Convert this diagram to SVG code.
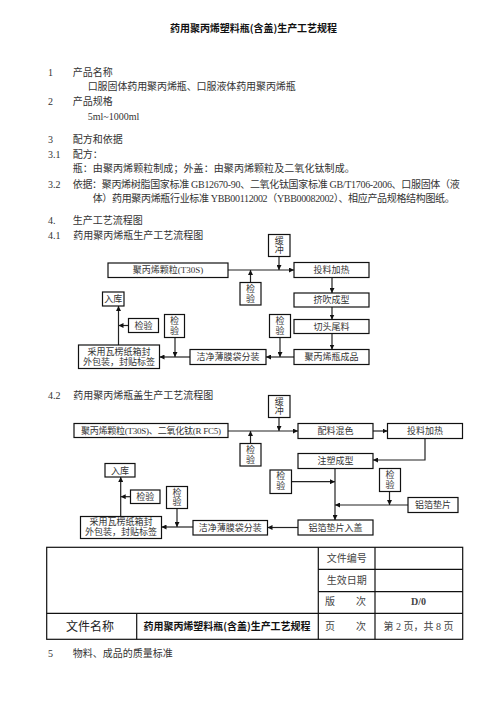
<svg xmlns="http://www.w3.org/2000/svg" width="496" height="702" viewBox="0 0 496 702">
<defs>
<marker id="ah" viewBox="0 0 6 6" refX="6" refY="3" markerWidth="5" markerHeight="5" markerUnits="userSpaceOnUse" orient="auto"><path d="M0,0 L6,3 L0,6 z" fill="#111"/></marker>
<style>
.t{font-family:"Liberation Serif","Noto Sans CJK SC",serif;font-size:10px;fill:#333}
.h{font-family:"Noto Sans CJK SC",sans-serif;font-size:10px;font-weight:bold;fill:#111}
.b{fill:#fff;stroke:#111;stroke-width:1.2}
.bt{font-family:"Liberation Serif","Noto Sans CJK SC",serif;font-size:9px;fill:#333;text-anchor:middle}
.c{fill:none;stroke:#222;stroke-width:1.2;marker-end:url(#ah)}
.g{fill:none;stroke:#111;stroke-width:1.2}
.tc{font-family:"Liberation Serif","Noto Sans CJK SC",serif;font-size:10px;fill:#444;text-anchor:middle}
</style>
</defs>
<rect width="496" height="702" fill="#fff"/>
<text class="h" x="253.5" y="32" text-anchor="middle" textLength="167">药用聚丙烯塑料瓶(含盖)生产工艺规程</text>
<g id="body">
<text class="t" x="48" y="75.8">1</text><text class="t" x="72.7" y="75.8">产品名称</text>
<text class="t" x="87.7" y="89.5" textLength="208">口服固体药用聚丙烯瓶、口服液体药用聚丙烯瓶</text>
<text class="t" x="48" y="105.2">2</text><text class="t" x="72.7" y="105.2">产品规格</text>
<text class="t" x="87.7" y="120.2">5ml~1000ml</text>
<text class="t" x="48" y="142.5">3</text><text class="t" x="72.7" y="142.5">配方和依据</text>
<text class="t" x="48" y="157.8">3.1</text><text class="t" x="72.7" y="157.8">配方：</text>
<text class="t" x="72.7" y="171.8" textLength="282">瓶：由聚丙烯颗粒制成；外盖：由聚丙烯颗粒及二氧化钛制成。</text>
<text class="t" x="48" y="187.8">3.2</text><text class="t" x="72.7" y="187.8" textLength="387">依据：聚丙烯树脂国家标准 GB12670-90、二氧化钛国家标准 GB/T1706-2006、口服固体（液</text>
<text class="t" x="92.7" y="201.8" textLength="362">体）药用聚丙烯瓶行业标准 YBB00112002（YBB00082002）、相应产品规格结构图纸。</text>
<text class="t" x="48" y="223.5">4.</text><text class="t" x="72.7" y="223.5">生产工艺流程图</text>
<text class="t" x="48" y="238.5">4.1</text><text class="t" x="73.3" y="238.5">药用聚丙烯瓶生产工艺流程图</text>
<text class="t" x="48" y="398.5">4.2</text><text class="t" x="73.3" y="398.5">药用聚丙烯瓶盖生产工艺流程图</text>
<text class="t" x="48" y="656.8">5</text><text class="t" x="72.7" y="656.8">物料、成品的质量标准</text>
</g>
<g id="connectors">
<line class="c" x1="228" y1="270" x2="294" y2="270"/>
<line class="c" x1="279" y1="256.5" x2="279" y2="270"/>
<line class="c" x1="250.5" y1="282.5" x2="250.5" y2="270"/>
<line class="c" x1="332" y1="277.5" x2="332" y2="293"/>
<line class="c" x1="332" y1="307" x2="332" y2="319.5"/>
<line class="c" x1="332" y1="333.5" x2="332" y2="349.5"/>
<line class="c" x1="294" y1="357" x2="266" y2="357"/>
<line class="c" x1="280" y1="337.5" x2="280" y2="357"/>
<line class="c" x1="190" y1="357" x2="159.5" y2="357"/>
<line class="c" x1="175" y1="337.5" x2="175" y2="357"/>
<line class="c" x1="118.5" y1="345" x2="118.5" y2="306"/>
<line class="c" x1="128.5" y1="325.5" x2="118.5" y2="325.5"/>
<line class="c" x1="228" y1="431" x2="298" y2="431"/>
<line class="c" x1="279" y1="417.5" x2="279" y2="431"/>
<line class="c" x1="250.5" y1="443.5" x2="250.5" y2="431"/>
<line class="c" x1="373" y1="431" x2="387.5" y2="431"/>
<path class="c" d="M425,438.5 V460 H373"/>
<line class="c" x1="335" y1="468.5" x2="335" y2="520"/>
<line class="c" x1="291.5" y1="481.7" x2="335" y2="481.7"/>
<line class="c" x1="408" y1="505" x2="335" y2="505"/>
<line class="c" x1="389.5" y1="491.5" x2="389.5" y2="505"/>
<line class="c" x1="298" y1="527.5" x2="267.5" y2="527.5"/>
<line class="c" x1="193" y1="527" x2="161.5" y2="527"/>
<line class="c" x1="177" y1="508.5" x2="177" y2="527"/>
<line class="c" x1="120.7" y1="516.5" x2="120.7" y2="477"/>
<line class="c" x1="130.5" y1="496.7" x2="120.7" y2="496.7"/>
</g>
<g id="n_buffer1"><rect class="b" x="268.5" y="234.5" width="21.5" height="22"/><text class="bt" x="279.2" y="243.5">缓</text><text class="bt" x="279.2" y="253">冲</text></g>
<g id="n_pp1"><rect class="b" x="108" y="263" width="120" height="14.5"/><text class="bt" x="168" y="273.3">聚丙烯颗粒(T30S)</text></g>
<g id="n_feed1"><rect class="b" x="294" y="262.5" width="75" height="15"/><text class="bt" x="331.5" y="273.3">投料加热</text></g>
<g id="n_qc1a"><rect class="b" x="240" y="282.5" width="21" height="22.5"/><text class="bt" x="250.5" y="291.5">检</text><text class="bt" x="250.5" y="301.5">验</text></g>
<g id="n_blow"><rect class="b" x="294" y="293" width="75" height="14"/><text class="bt" x="331.5" y="303.2">挤吹成型</text></g>
<g id="n_cut"><rect class="b" x="294" y="319.5" width="75" height="14"/><text class="bt" x="331.5" y="329.7">切头尾料</text></g>
<g id="n_bottle"><rect class="b" x="294" y="349.5" width="75" height="15"/><text class="bt" x="331.5" y="360.2">聚丙烯瓶成品</text></g>
<g id="n_qc1b"><rect class="b" x="269.5" y="314.5" width="21" height="23"/><text class="bt" x="280" y="323.5">检</text><text class="bt" x="280" y="333.5">验</text></g>
<g id="n_pack1"><rect class="b" x="190" y="349.5" width="76" height="15"/><text class="bt" x="228" y="360.2">洁净薄膜袋分装</text></g>
<g id="n_qc1c"><rect class="b" x="164.5" y="314.5" width="20" height="23"/><text class="bt" x="174.5" y="323.5">检</text><text class="bt" x="174.5" y="333.5">验</text></g>
<g id="n_box1"><rect class="b" x="78.5" y="345" width="81" height="23.5"/><text class="bt" x="119" y="355">采用瓦楞纸箱封</text><text class="bt" x="119" y="365">外包装，封贴标签</text></g>
<g id="n_store1"><rect class="b" x="102.5" y="292" width="21.5" height="14"/><text class="bt" x="113.2" y="302.2">入库</text></g>
<g id="n_check1"><rect class="b" x="128.5" y="318.5" width="30" height="14"/><text class="bt" x="143.5" y="328.7">检验</text></g>
<g id="n_buffer2"><rect class="b" x="268.5" y="395.5" width="21.5" height="22"/><text class="bt" x="279.2" y="404.5">缓</text><text class="bt" x="279.2" y="414">冲</text></g>
<g id="n_pp2"><rect class="b" x="74" y="423.5" width="154" height="14"/><text class="bt" x="151" y="433.7" textLength="140">聚丙烯颗粒(T30S)、二氧化钛(R FC5)</text></g>
<g id="n_qc2a"><rect class="b" x="240" y="443.5" width="21" height="22.5"/><text class="bt" x="250.5" y="452.5">检</text><text class="bt" x="250.5" y="462.5">验</text></g>
<g id="n_mix"><rect class="b" x="298" y="423.5" width="75" height="15"/><text class="bt" x="335.5" y="434.2">配料混色</text></g>
<g id="n_feed2"><rect class="b" x="387.5" y="423.5" width="75" height="15"/><text class="bt" x="425" y="434.2">投料加热</text></g>
<g id="n_inject"><rect class="b" x="298" y="453.5" width="75" height="15"/><text class="bt" x="335.5" y="464.2">注塑成型</text></g>
<g id="n_qc2b"><rect class="b" x="270" y="470" width="21.5" height="23.5"/><text class="bt" x="280.7" y="479.2">检</text><text class="bt" x="280.7" y="489.2">验</text></g>
<g id="n_qc2c"><rect class="b" x="379.5" y="468.5" width="21" height="23"/><text class="bt" x="390" y="477.5">检</text><text class="bt" x="390" y="487.5">验</text></g>
<g id="n_foil"><rect class="b" x="408" y="497.5" width="50" height="15"/><text class="bt" x="433" y="508.2">铝箔垫片</text></g>
<g id="n_cap"><rect class="b" x="298" y="520" width="75" height="15"/><text class="bt" x="335.5" y="530.7">铝箔垫片入盖</text></g>
<g id="n_pack2"><rect class="b" x="193" y="520.5" width="74.5" height="14.5"/><text class="bt" x="230.2" y="530.9">洁净薄膜袋分装</text></g>
<g id="n_qc2d"><rect class="b" x="166.5" y="486.5" width="21" height="22"/><text class="bt" x="177" y="495.5">检</text><text class="bt" x="177" y="505">验</text></g>
<g id="n_box2"><rect class="b" x="80.5" y="516.5" width="81" height="22"/><text class="bt" x="121" y="525">采用瓦楞纸箱封</text><text class="bt" x="121" y="535">外包装，封贴标签</text></g>
<g id="n_store2"><rect class="b" x="105" y="463.5" width="30" height="13.5"/><text class="bt" x="120" y="473.5">入库</text></g>
<g id="n_check2"><rect class="b" x="130.5" y="490" width="29.5" height="13.5"/><text class="bt" x="145.2" y="500">检验</text></g>
<g id="table">
<rect class="g" x="46.7" y="547.3" width="416" height="92"/>
<line class="g" x1="318.3" y1="547.3" x2="318.3" y2="639.3"/>
<line class="g" x1="375" y1="547.3" x2="375" y2="639.3"/>
<line class="g" x1="136.7" y1="613.3" x2="136.7" y2="639.3"/>
<line class="g" x1="318.3" y1="569.3" x2="462.7" y2="569.3"/>
<line class="g" x1="318.3" y1="591.7" x2="462.7" y2="591.7"/>
<line class="g" x1="46.7" y1="613.3" x2="462.7" y2="613.3"/>
<text class="tc" x="346.7" y="561.8">文件编号</text>
<text class="tc" x="346.7" y="583.5">生效日期</text>
<text class="tc" x="330" y="605.2">版</text><text class="tc" x="361" y="605.2">次</text>
<text class="tc" x="418.5" y="605.2" style="font-weight:bold">D/0</text>
<text x="90" y="630.5" text-anchor="middle" style="font-family:'Liberation Sans','Noto Sans CJK SC',sans-serif;font-size:12px;fill:#222">文件名称</text>
<text class="h" x="227" y="629.8" text-anchor="middle" textLength="167">药用聚丙烯塑料瓶(含盖)生产工艺规程</text>
<text class="tc" x="330" y="629.5">页</text><text class="tc" x="361" y="629.5">次</text>
<text class="tc" x="418.5" y="629.5">第 2 页，共 8 页</text>
</g>
</svg>
